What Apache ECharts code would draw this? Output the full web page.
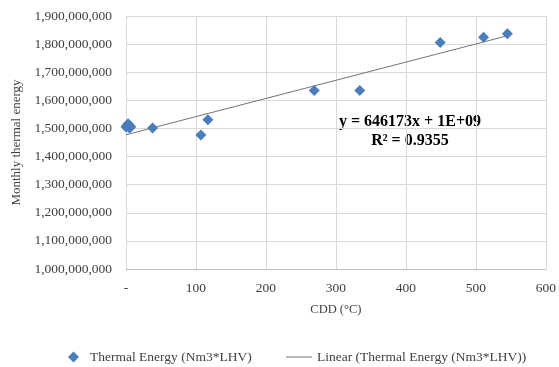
<!DOCTYPE html>
<html>
<head>
<meta charset="utf-8">
<script src="https://cdn.jsdelivr.net/npm/echarts@6/dist/echarts.min.js"></script>
<style>
  html, body { margin: 0; padding: 0; background: #fff; }
  #main { width: 559px; height: 367px; }
</style>
</head>
<body>
<div id="main"></div>
<script>
// CDD (°C) per month and monthly thermal energy
const cdd = [0, 1, 3, 5, 7, 38, 107, 117, 269, 334, 449, 511, 545];
const energy = [1505000000, 1510000000, 1517000000, 1502000000, 1506000000, 1502000000, 1477000000,
  1531000000, 1635000000, 1635000000, 1806000000, 1824000000, 1837000000];

// trendline
const trendSlope = 646173;
const trendIntercept = 1477500000;

const xTicks = [0, 100, 200, 300, 400, 500, 600];
const seriesName = "Thermal Energy (Nm3*LHV)";
const trendName = "Linear (Thermal Energy (Nm3*LHV))";

const FONT = "Liberation Serif";

let points = [];
for (let i = 0; i < cdd.length; ++i) {
  points.push([cdd[i], energy[i]]);
}
const xEnd = Math.max.apply(null, cdd);
const trend = [
  [0, trendIntercept],
  [xEnd, trendIntercept + trendSlope * xEnd]
];

const chart = echarts.init(document.getElementById("main"));
chart.setOption({
  animation: false,
  textStyle: { fontFamily: FONT },
  grid: { left: 126, right: 13, top: 16, bottom: 98 },
  legend: [
    {
      data: [{ name: seriesName, icon: "diamond" }],
      left: 63, top: 345,
      itemWidth: 11, itemHeight: 11, itemGap: 8,
      textStyle: { fontFamily: FONT, fontSize: 13.5, color: "#404040", padding: [0, 0, 0, 6] }
    },
    {
      data: [{ name: trendName, icon: "path://M0,0H26V1H0Z" }],
      left: 281, top: 345,
      itemWidth: 26, itemHeight: 11,
      textStyle: { fontFamily: FONT, fontSize: 13.5, color: "#404040" }
    }
  ],
  xAxis: {
    type: "value",
    min: xTicks[0], max: xTicks[xTicks.length - 1], interval: 100,
    name: "CDD (°C)",
    nameLocation: "middle",
    nameGap: 34,
    nameTextStyle: { fontFamily: FONT, fontSize: 12.5, color: "#404040" },
    axisLine: { show: true, lineStyle: { color: "#bfbfbf" } },
    axisTick: { show: false },
    splitLine: { show: true, lineStyle: { color: "#d9d9d9" } },
    axisLabel: {
      fontFamily: FONT, fontSize: 13.5, color: "#404040", margin: 12,
      formatter: v => v === 0 ? "-" : String(v)
    }
  },
  yAxis: {
    type: "value",
    min: 1000000000, max: 1900000000, interval: 100000000,
    name: "Monthly thermal energy",
    nameLocation: "middle",
    nameGap: 101,
    nameTextStyle: { fontFamily: FONT, fontSize: 13, color: "#404040" },
    axisLine: { show: false },
    axisTick: { show: false },
    splitLine: { show: true, lineStyle: { color: "#d9d9d9" } },
    axisLabel: {
      fontFamily: FONT, fontSize: 13.5, color: "#404040", margin: 14,
      formatter: v => v.toLocaleString("en-US")
    }
  },
  graphic: [
    {
      type: "text",
      x: 410, y: 112,
      style: {
        text: "y = 646173x + 1E+09\nR² = 0.9355",
        font: "bold 16px 'Liberation Serif'",
        fill: "#000",
        align: "center",
        lineHeight: 19
      }
    }
  ],
  series: [
    {
      name: seriesName,
      type: "scatter",
      data: points,
      symbol: "diamond",
      symbolSize: 11,
      itemStyle: { color: "#4a7ebb", opacity: 1 },
      z: 3
    },
    {
      name: trendName,
      type: "line",
      data: trend,
      showSymbol: false,
      symbol: "none",
      lineStyle: { color: "#737373", width: 1 },
      itemStyle: { color: "#737373" },
      z: 2
    }
  ]
});
</script>
</body>
</html>
